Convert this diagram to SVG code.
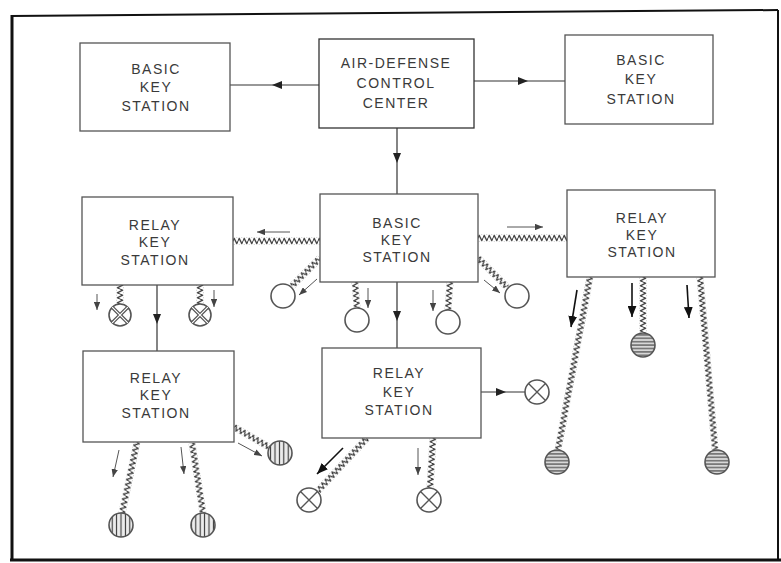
<svg xmlns="http://www.w3.org/2000/svg" width="781" height="563" viewBox="0 0 781 563">
<style>
.box{fill:#fff;stroke:#555;stroke-width:1.3}
.t{font-family:"Liberation Sans",Arial,sans-serif;font-size:14px;letter-spacing:1.5px;fill:#3a3a3a;text-anchor:middle}
.ln{fill:none;stroke:#333;stroke-width:1.2;marker-mid:url(#am)}
.zz{fill:url(#zz)}
.ar{fill:none;stroke:#555;stroke-width:1;marker-end:url(#ah)}
.arb{fill:none;stroke:#111;stroke-width:1.6;marker-end:url(#ahb)}
.c{stroke:#555;stroke-width:1.6}
.frame{stroke:#111;fill:none}
</style>
<defs>
<marker id="ah" viewBox="0 0 10 8" refX="10" refY="4" markerWidth="8" markerHeight="6.4" markerUnits="userSpaceOnUse" orient="auto"><path d="M0,0 L10,4 L0,8 z" fill="#444"/></marker>
<marker id="ahb" viewBox="0 0 10 8" refX="10" refY="4" markerWidth="11" markerHeight="9" markerUnits="userSpaceOnUse" orient="auto"><path d="M0,0 L10,4 L0,8 z" fill="#111"/></marker>
<marker id="am" viewBox="0 0 10 8" refX="5" refY="4" markerWidth="10" markerHeight="8" markerUnits="userSpaceOnUse" orient="auto"><path d="M0,0 L10,4 L0,8 z" fill="#222"/></marker>
<pattern id="zz" patternUnits="userSpaceOnUse" x="0" y="-3.5" width="5" height="7"><polyline points="0,3.5 1.25,0.9 3.75,6.1 5,3.5" fill="none" stroke="#333" stroke-width="1.2"/></pattern>
<pattern id="hh" patternUnits="userSpaceOnUse" width="4" height="3.4"><rect width="4" height="3.4" fill="#d8d8d8"/><line x1="0" y1="1.7" x2="4" y2="1.7" stroke="#444" stroke-width="1.1"/></pattern>
<pattern id="vh" patternUnits="userSpaceOnUse" width="4.4" height="4"><rect width="4.4" height="4" fill="#ececec"/><line x1="2.2" y1="0" x2="2.2" y2="4" stroke="#333" stroke-width="1.1"/></pattern>
</defs>
<rect width="781" height="563" fill="#fff"/>
<g id="frame">
<line class="frame" x1="12" y1="15" x2="12" y2="561" stroke-width="3"/>
<line class="frame" x1="11" y1="16" x2="778" y2="10" stroke-width="2"/>
<line class="frame" x1="778" y1="10" x2="778" y2="560" stroke-width="2"/>
<line class="frame" x1="10" y1="560" x2="781" y2="560" stroke-width="3"/>
</g>
<g id="connectors">
<path class="ln" d="M319,85 L277,85 L230,85"/>
<path class="ln" d="M474,81 L523,81 L565,81"/>
<path class="ln" d="M397,128 L397,158 L397,194"/>
<path class="ln" d="M397,282 L397,316 L397,348"/>
<path class="ln" d="M157,285 L157,319 L157,351"/>
<path class="ln" d="M481,392 L501,392 L525,392"/>
<rect class="zz" x="0" y="-3.5" width="87" height="7" transform="translate(233,241)"/>
<rect class="zz" x="0" y="-3.5" width="89" height="7" transform="translate(478,238)"/>
<rect class="zz" x="0" y="-3.5" width="20" height="7" transform="translate(120,284) rotate(90)"/>
<rect class="zz" x="0" y="-3.5" width="20" height="7" transform="translate(200,284) rotate(90)"/>
<rect class="zz" x="0" y="-3.5" width="39.6" height="7" transform="translate(320,258) rotate(135)"/>
<rect class="zz" x="0" y="-3.5" width="26.1" height="7" transform="translate(355,282) rotate(85.6)"/>
<rect class="zz" x="0" y="-3.5" width="28.1" height="7" transform="translate(450,282) rotate(94.1)"/>
<rect class="zz" x="0" y="-3.5" width="41" height="7" transform="translate(478,258) rotate(45)"/>
<rect class="zz" x="0" y="-3.5" width="72.2" height="7" transform="translate(367,438) rotate(132.8)"/>
<rect class="zz" x="0" y="-3.5" width="50.1" height="7" transform="translate(433,438) rotate(93.4)"/>
<rect class="zz" x="0" y="-3.5" width="40.3" height="7" transform="translate(234,427) rotate(29.7)"/>
<rect class="zz" x="0" y="-3.5" width="72.6" height="7" transform="translate(137,442) rotate(101.9)"/>
<rect class="zz" x="0" y="-3.5" width="70.9" height="7" transform="translate(192,443) rotate(81.1)"/>
<rect class="zz" x="0" y="-3.5" width="175.9" height="7" transform="translate(590,277) rotate(100.5)"/>
<rect class="zz" x="0" y="-3.5" width="56" height="7" transform="translate(643,277) rotate(90)"/>
<rect class="zz" x="0" y="-3.5" width="173.6" height="7" transform="translate(700,277) rotate(85)"/>
<path class="ar" d="M290,232 L257,232"/>
<path class="ar" d="M507,227 L543,227"/>
<path class="ar" d="M97,294 L97,310"/>
<path class="ar" d="M214,290 L214,307"/>
<path class="ar" d="M317,279 L299,295"/>
<path class="ar" d="M368,288 L368,308"/>
<path class="ar" d="M433,290 L433,311"/>
<path class="ar" d="M484,280 L500,293"/>
<path class="arb" d="M343,448 L317,474"/>
<path class="ar" d="M418,448 L418,475"/>
<path class="ar" d="M119,450 L113,477"/>
<path class="ar" d="M181,447 L184,474"/>
<path class="ar" d="M238,443 L262,456"/>
<path class="arb" d="M577,290 L571,327"/>
<path class="arb" d="M632,283 L632,317"/>
<path class="arb" d="M687,285 L689,318"/>
</g>
<g id="bks_tl"><rect class="box" x="80" y="43" width="150" height="88"/><text class="t"><tspan x="156" y="74">BASIC</tspan><tspan x="156" y="92">KEY</tspan><tspan x="156" y="111">STATION</tspan></text></g>
<g id="acc"><rect class="box" x="319" y="39" width="155" height="89" style="stroke:#333"/><text class="t"><tspan x="396" y="68">AIR-DEFENSE</tspan><tspan x="396" y="88">CONTROL</tspan><tspan x="396" y="108">CENTER</tspan></text></g>
<g id="bks_tr"><rect class="box" x="565" y="35" width="148" height="89"/><text class="t"><tspan x="641" y="65">BASIC</tspan><tspan x="641" y="84">KEY</tspan><tspan x="641" y="104">STATION</tspan></text></g>
<g id="relay_l"><rect class="box" x="82" y="197" width="151" height="88"/><text class="t"><tspan x="155" y="230">RELAY</tspan><tspan x="155" y="247">KEY</tspan><tspan x="155" y="265">STATION</tspan></text></g>
<g id="bks_mid"><rect class="box" x="320" y="194" width="158" height="88"/><text class="t"><tspan x="397" y="228">BASIC</tspan><tspan x="397" y="245">KEY</tspan><tspan x="397" y="262">STATION</tspan></text></g>
<g id="relay_r"><rect class="box" x="567" y="190" width="148" height="87"/><text class="t"><tspan x="642" y="223">RELAY</tspan><tspan x="642" y="240">KEY</tspan><tspan x="642" y="257">STATION</tspan></text></g>
<g id="relay_mid"><rect class="box" x="322" y="348" width="159" height="90"/><text class="t"><tspan x="399" y="378">RELAY</tspan><tspan x="399" y="397">KEY</tspan><tspan x="399" y="415">STATION</tspan></text></g>
<g id="relay_bl"><rect class="box" x="83" y="351" width="151" height="91"/><text class="t"><tspan x="156" y="383">RELAY</tspan><tspan x="156" y="400">KEY</tspan><tspan x="156" y="418">STATION</tspan></text></g>
<g id="dx1"><circle class="c" cx="120" cy="315" r="11" fill="#fff"/><path d="M112.2,307.2 L127.8,322.8 M127.8,307.2 L112.2,322.8" stroke="#555" stroke-width="3.6"/><path d="M112.2,307.2 L127.8,322.8 M127.8,307.2 L112.2,322.8" stroke="#fff" stroke-width="1.2"/></g>
<g id="dx2"><circle class="c" cx="200" cy="315" r="11" fill="#fff"/><path d="M192.2,307.2 L207.8,322.8 M207.8,307.2 L192.2,322.8" stroke="#555" stroke-width="3.6"/><path d="M192.2,307.2 L207.8,322.8 M207.8,307.2 L192.2,322.8" stroke="#fff" stroke-width="1.2"/></g>
<g id="o1"><circle class="c" cx="283" cy="296" r="12" fill="#fff"/></g>
<g id="o2"><circle class="c" cx="357" cy="320" r="12" fill="#fff"/></g>
<g id="o3"><circle class="c" cx="448" cy="322" r="12" fill="#fff"/></g>
<g id="o4"><circle class="c" cx="517" cy="296" r="12" fill="#fff"/></g>
<g id="x1"><circle class="c" cx="537" cy="392" r="12" fill="#fff"/><path d="M528.5,383.5 L545.5,400.5 M545.5,383.5 L528.5,400.5" stroke="#555" stroke-width="1.4"/></g>
<g id="x2"><circle class="c" cx="309" cy="500" r="12" fill="#fff"/><path d="M300.5,491.5 L317.5,508.5 M317.5,491.5 L300.5,508.5" stroke="#555" stroke-width="1.4"/></g>
<g id="x3"><circle class="c" cx="429" cy="500" r="12" fill="#fff"/><path d="M420.5,491.5 L437.5,508.5 M437.5,491.5 L420.5,508.5" stroke="#555" stroke-width="1.4"/></g>
<g id="v1"><circle class="c" cx="280" cy="453" r="12" fill="url(#vh)"/></g>
<g id="v2"><circle class="c" cx="121" cy="525" r="12" fill="url(#vh)"/></g>
<g id="v3"><circle class="c" cx="203" cy="525" r="12" fill="url(#vh)"/></g>
<g id="h1"><circle class="c" cx="557" cy="462" r="12" fill="url(#hh)"/></g>
<g id="h2"><circle class="c" cx="643" cy="345" r="12" fill="url(#hh)"/></g>
<g id="h3"><circle class="c" cx="717" cy="462" r="12" fill="url(#hh)"/></g>
</svg>
